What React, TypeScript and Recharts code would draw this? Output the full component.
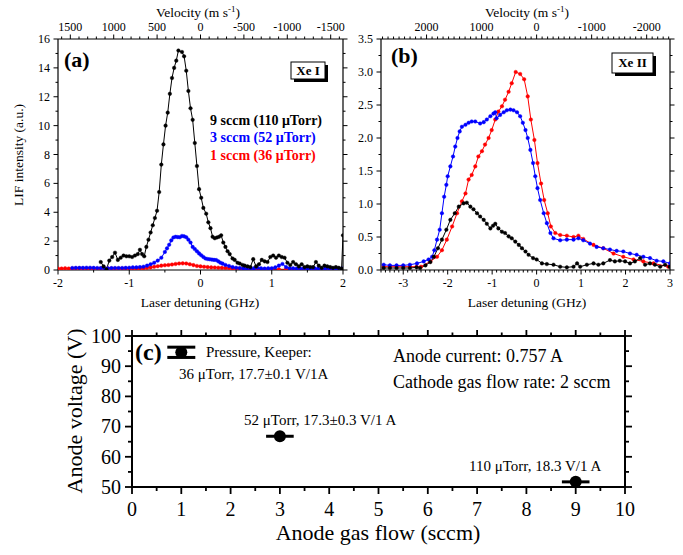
import React from 'react';
import { LineChart, Line, XAxis, YAxis, ScatterChart, Scatter, ErrorBar } from 'recharts';

const SERIF = '"Liberation Serif", "Times New Roman", serif';
const RED = '#ff0000';
const BLK = '#000000';
const BLUE = '#0000ff';

// velocity per GHz of detuning
const K_A = 821;
const K_B = 808;

// (a) Xe I, detuning (GHz) vs LIF intensity
const xeI_9sccm: [number, number][] = [
  [-1.4, 0.55], [-1.36, 0.25], [-1.32, 0.05], [-1.28, 0.65], [-1.24, 0.9], [-1.2, 1.2], [-1.16, 0.7],
  [-1.12, 0.85], [-1.08, 1.0], [-1.04, 0.95], [-1.0, 0.95], [-0.96, 0.9], [-0.92, 1.0], [-0.88, 1.1],
  [-0.85, 1.4], [-0.82, 1.1], [-0.79, 0.95], [-0.76, 1.6], [-0.73, 2.1], [-0.7, 2.6], [-0.67, 3.1],
  [-0.64, 3.6], [-0.61, 4.1], [-0.58, 5.4], [-0.55, 7.3], [-0.52, 8.7], [-0.49, 10.0], [-0.46, 10.9],
  [-0.43, 12.2], [-0.4, 13.3], [-0.37, 14.0], [-0.34, 14.5], [-0.31, 15.2], [-0.26, 15.1], [-0.23, 14.8],
  [-0.2, 13.8], [-0.17, 12.4], [-0.14, 11.2], [-0.11, 10.4], [-0.08, 8.8], [-0.05, 7.2], [-0.02, 5.6],
  [0.01, 5.0], [0.04, 4.3], [0.08, 3.9], [0.11, 3.3], [0.14, 2.9], [0.17, 2.3], [0.2, 2.2], [0.23, 2.25],
  [0.26, 2.3], [0.29, 2.4], [0.32, 1.9], [0.35, 1.6], [0.38, 1.3], [0.41, 1.1], [0.45, 0.8], [0.48, 0.7],
  [0.52, 0.5], [0.55, 0.45], [0.59, 0.35], [0.62, 0.3], [0.66, 0.25], [0.7, 0.2], [0.74, 0.75], [0.78, 0.25],
  [0.82, 0.4], [0.86, 0.7], [0.9, 0.6], [0.94, 0.55], [0.98, 0.9], [1.02, 1.0], [1.06, 0.85], [1.1, 1.0],
  [1.14, 0.9], [1.18, 0.85], [1.22, 0.5], [1.26, 0.35], [1.3, 0.55], [1.34, 0.4], [1.38, 0.25], [1.42, 0.4],
  [1.46, 0.2], [1.5, 0.25], [1.54, 0.2], [1.58, 0.2], [1.62, 0.55], [1.66, 0.3], [1.7, 0.15], [1.74, 0.3],
  [1.78, 0.25], [1.82, 0.2], [1.86, 0.15], [1.9, 0.2], [1.94, 0.15], [1.98, 0.1], [2.0, 2.4],
];
const xeI_3sccm: [number, number][] = [
  [-1.8, 0.14], [-1.75, 0.15], [-1.7, 0.15], [-1.65, 0.15], [-1.6, 0.16], [-1.55, 0.16], [-1.5, 0.15],
  [-1.45, 0.14], [-1.4, 0.13], [-1.35, 0.12], [-1.3, 0.12], [-1.25, 0.13], [-1.2, 0.14], [-1.15, 0.14],
  [-1.1, 0.14], [-1.05, 0.15], [-1.0, 0.16], [-0.95, 0.18], [-0.9, 0.18], [-0.85, 0.2], [-0.8, 0.23],
  [-0.75, 0.3], [-0.7, 0.4], [-0.65, 0.5], [-0.6, 0.65], [-0.55, 0.85], [-0.5, 1.25], [-0.47, 1.5],
  [-0.44, 1.75], [-0.41, 2.05], [-0.38, 2.25], [-0.35, 2.3], [-0.32, 2.28], [-0.29, 2.27], [-0.26, 2.36],
  [-0.23, 2.33], [-0.2, 2.27], [-0.17, 2.1], [-0.14, 1.9], [-0.11, 1.6], [-0.08, 1.45], [-0.05, 1.3],
  [-0.02, 1.15], [0.01, 1.02], [0.04, 0.9], [0.07, 0.8], [0.1, 0.76], [0.13, 0.74], [0.16, 0.72],
  [0.19, 0.7], [0.22, 0.69], [0.25, 0.6], [0.28, 0.5], [0.31, 0.44], [0.35, 0.35], [0.4, 0.28], [0.45, 0.2],
  [0.5, 0.16], [0.55, 0.13], [0.6, 0.11], [0.65, 0.1], [0.7, 0.1], [0.75, 0.12], [0.8, 0.15], [0.85, 0.12],
  [0.9, 0.1], [0.95, 0.12], [1.0, 0.12], [1.05, 0.18], [1.1, 0.3], [1.15, 0.42], [1.2, 0.2], [1.25, 0.12],
  [1.3, 0.12], [1.35, 0.1], [1.4, 0.1], [1.45, 0.12], [1.5, 0.1], [1.55, 0.1], [1.6, 0.12], [1.65, 0.1],
  [1.7, 0.1], [1.75, 0.1], [1.8, 0.12], [1.85, 0.1], [1.9, 0.08], [1.95, 0.1], [2.0, 0.1],
];
const xeI_1sccm: [number, number][] = [
  [-2.0, 0.1], [-1.95, 0.1], [-1.9, 0.12], [-1.85, 0.1], [-1.8, 0.1], [-1.75, 0.1], [-1.7, 0.11],
  [-1.65, 0.1], [-1.6, 0.1], [-1.55, 0.1], [-1.5, 0.1], [-1.45, 0.09], [-1.4, 0.1], [-1.35, 0.1],
  [-1.3, 0.1], [-1.25, 0.1], [-1.2, 0.1], [-1.15, 0.1], [-1.1, 0.1], [-1.05, 0.1], [-1.0, 0.1],
  [-0.95, 0.1], [-0.9, 0.1], [-0.85, 0.11], [-0.8, 0.12], [-0.75, 0.15], [-0.7, 0.18], [-0.65, 0.22],
  [-0.6, 0.26], [-0.55, 0.3], [-0.5, 0.33], [-0.45, 0.35], [-0.4, 0.38], [-0.35, 0.42], [-0.3, 0.45],
  [-0.25, 0.46], [-0.2, 0.45], [-0.15, 0.4], [-0.1, 0.34], [-0.05, 0.28], [0.0, 0.25], [0.05, 0.22],
  [0.1, 0.2], [0.15, 0.18], [0.2, 0.17], [0.25, 0.16], [0.3, 0.15], [0.35, 0.14], [0.4, 0.13], [0.45, 0.11],
  [0.5, 0.1], [0.55, 0.09], [0.6, 0.08], [0.65, 0.07], [0.7, 0.06], [0.8, 0.06], [0.9, 0.05], [1.0, 0.05],
  [1.1, 0.05], [1.2, 0.05], [1.3, 0.04], [1.4, 0.04], [1.5, 0.04], [1.6, 0.04], [1.7, 0.04], [1.8, 0.04],
  [1.9, 0.04], [2.0, 0.04],
];

// (b) Xe II
const xeII_9sccm: [number, number][] = [
  [-3.44, 0.03], [-3.3, 0.03], [-3.15, 0.03], [-3.0, 0.03], [-2.85, 0.03], [-2.7, 0.04], [-2.62, 0.03],
  [-2.5, 0.07], [-2.39, 0.12], [-2.31, 0.2], [-2.22, 0.33], [-2.13, 0.46], [-2.03, 0.61], [-1.94, 0.76],
  [-1.84, 0.86], [-1.75, 0.96], [-1.64, 1.01], [-1.57, 1.02], [-1.49, 0.96], [-1.42, 0.92], [-1.34, 0.86],
  [-1.27, 0.81], [-1.19, 0.76], [-1.12, 0.7], [-1.04, 0.63], [-0.98, 0.67], [-0.93, 0.7], [-0.86, 0.63],
  [-0.78, 0.58], [-0.71, 0.56], [-0.63, 0.51], [-0.56, 0.48], [-0.48, 0.43], [-0.4, 0.38], [-0.33, 0.33],
  [-0.25, 0.28], [-0.18, 0.23], [-0.08, 0.18], [0.0, 0.16], [0.12, 0.1], [0.23, 0.09], [0.38, 0.08],
  [0.53, 0.05], [0.68, 0.04], [0.83, 0.05], [0.91, 0.1], [0.98, 0.05], [1.13, 0.08], [1.28, 0.1],
  [1.39, 0.08], [1.5, 0.1], [1.65, 0.15], [1.76, 0.13], [1.87, 0.14], [1.99, 0.13], [2.1, 0.1],
  [2.21, 0.13], [2.33, 0.18], [2.44, 0.08], [2.55, 0.1], [2.66, 0.08], [2.78, 0.05], [2.89, 0.08], [2.99, 0.05],
];
const xeII_3sccm: [number, number][] = [
  [-3.44, 0.08], [-3.3, 0.07], [-3.15, 0.07], [-3.0, 0.07], [-2.85, 0.08], [-2.69, 0.1], [-2.54, 0.13],
  [-2.43, 0.16], [-2.35, 0.2], [-2.3, 0.3], [-2.24, 0.46], [-2.18, 0.61], [-2.13, 0.86], [-2.08, 1.11],
  [-2.03, 1.29], [-2.0, 1.42], [-1.94, 1.57], [-1.88, 1.72], [-1.83, 1.87], [-1.78, 2.0], [-1.73, 2.1],
  [-1.68, 2.17], [-1.6, 2.2], [-1.53, 2.23], [-1.46, 2.25], [-1.38, 2.25], [-1.27, 2.22], [-1.19, 2.24],
  [-1.12, 2.28], [-1.04, 2.33], [-0.97, 2.37], [-0.93, 2.39], [-0.9, 2.3], [-0.82, 2.35], [-0.74, 2.39],
  [-0.67, 2.42], [-0.59, 2.43], [-0.52, 2.42], [-0.44, 2.39], [-0.37, 2.33], [-0.31, 2.23], [-0.25, 2.12],
  [-0.2, 2.0], [-0.14, 1.82], [-0.08, 1.62], [-0.03, 1.42], [0.02, 1.24], [0.08, 1.06], [0.16, 0.86],
  [0.23, 0.71], [0.31, 0.56], [0.38, 0.48], [0.53, 0.45], [0.68, 0.46], [0.83, 0.46], [0.94, 0.48],
  [1.05, 0.45], [1.2, 0.4], [1.35, 0.35], [1.5, 0.33], [1.65, 0.31], [1.8, 0.29], [1.95, 0.28], [2.1, 0.25],
  [2.25, 0.23], [2.4, 0.2], [2.55, 0.18], [2.7, 0.14], [2.85, 0.13], [3.0, 0.1],
];
const xeII_1sccm: [number, number][] = [
  [-3.44, 0.05], [-3.3, 0.05], [-3.15, 0.05], [-3.0, 0.05], [-2.85, 0.05], [-2.7, 0.05], [-2.6, 0.05],
  [-2.39, 0.13], [-2.24, 0.2], [-2.13, 0.3], [-2.02, 0.46], [-1.9, 0.66], [-1.79, 0.86], [-1.68, 1.04],
  [-1.6, 1.16], [-1.53, 1.37], [-1.46, 1.44], [-1.38, 1.57], [-1.31, 1.72], [-1.23, 1.8], [-1.16, 1.9],
  [-1.08, 2.0], [-1.01, 2.12], [-0.93, 2.28], [-0.86, 2.4], [-0.78, 2.48], [-0.71, 2.58], [-0.63, 2.7],
  [-0.56, 2.83], [-0.47, 3.0], [-0.37, 2.97], [-0.28, 2.89], [-0.2, 2.63], [-0.13, 2.28], [-0.05, 1.97],
  [0.02, 1.62], [0.1, 1.31], [0.17, 1.06], [0.25, 0.86], [0.32, 0.66], [0.42, 0.56], [0.53, 0.53],
  [0.68, 0.52], [0.83, 0.5], [0.94, 0.52], [1.05, 0.47], [1.28, 0.38], [1.5, 0.33], [1.73, 0.25],
  [1.95, 0.2], [2.18, 0.16], [2.4, 0.13], [2.63, 0.1], [2.96, 0.05],
];

// (c) anode voltage vs anode gas flow
const flow1: { x: number; y: number; yErr: number }[] = [{ x: 1, y: 94.6, yErr: 1.7 }];
const flow3and9: { x: number; y: number; xErr: number }[] = [
  { x: 3, y: 66.8, xErr: 0.28 },
  { x: 9, y: 51.7, xErr: 0.28 },
];

const pts = (a: [number, number][]) => a.map(([x, y]) => ({ x, y }));

function steps(from: number, to: number, step: number) {
  const out: number[] = [];
  const n = Math.round((to - from) / step);
  for (let i = 0; i <= n; i++) out.push(+(from + i * step).toFixed(6));
  return out;
}
const onGrid = (v: number, step: number) => Math.abs(v / step - Math.round(v / step)) < 1e-6;

// corner points of a frame, so the mirrored top/right axes have something to scale against
const corners = (x0: number, x1: number, y0: number, y1: number) => [{ x: x0, y: y0 }, { x: x1, y: y1 }];

type Side = 'bottom' | 'top' | 'left' | 'right';
interface TickOpts { len: number; minor: number; gap: number; size: number; sw: number; labels?: boolean; fmt?: (v: number) => string }

// draws major/minor tick marks pointing outward, labels on majors only
function ticker(side: Side, major: number, o: TickOpts) {
  return (props: any) => {
    const { x, y, payload } = props;
    const v = payload.value as number;
    const isMajor = onGrid(v, major);
    const L = isMajor ? o.len : o.minor;
    let x2 = x, y2 = y;
    if (side === 'bottom') y2 = y + L;
    if (side === 'top') y2 = y - L;
    if (side === 'left') x2 = x - L;
    if (side === 'right') x2 = x + L;
    let label: React.ReactNode = null;
    if (o.labels && isMajor) {
      const s = o.fmt ? o.fmt(v) : String(v);
      const common = { fontFamily: SERIF, fontSize: o.size, fill: '#000' };
      if (side === 'bottom') label = <text x={x} y={y + o.len + o.gap} dy="0.71em" textAnchor="middle" {...common}>{s}</text>;
      if (side === 'top') label = <text x={x} y={y - o.len - o.gap} textAnchor="middle" {...common}>{s}</text>;
      if (side === 'left') label = <text x={x - o.len - o.gap} y={y} dy="0.34em" textAnchor="end" {...common}>{s}</text>;
    }
    return (
      <g>
        <line x1={x} y1={y} x2={x2} y2={y2} stroke="#000" strokeWidth={o.sw} />
        {label}
      </g>
    );
  };
}

const SMALL: TickOpts = { len: 4.5, minor: 2.5, gap: 3.5, size: 12, sw: 1, labels: true };
const BIG: TickOpts = { len: 7, minor: 4, gap: 8, size: 20, sw: 1.8, labels: true };
// top axis holds minus the velocity so it runs left to right; label shows the velocity
const VEL: TickOpts = { ...SMALL, fmt: (u) => (u === 0 ? '0' : String(-u)) };

const axisProps = (sw: number) => ({
  type: 'number' as const,
  axisLine: { stroke: '#000', strokeWidth: sw },
  tickLine: false,
  tickSize: 0,
  tickMargin: 0,
  interval: 0 as const,
  allowDataOverflow: true,
});

const dotted = (c: string) => ({
  type: 'linear' as const,
  dataKey: 'y',
  stroke: c,
  strokeWidth: 1,
  dot: { r: 1.8, fill: c, stroke: c, strokeWidth: 0.4 },
  activeDot: false as const,
  isAnimationActive: false,
  xAxisId: 'd',
  yAxisId: 'i',
});

const hidden = {
  dataKey: 'y',
  stroke: 'none',
  dot: false,
  activeDot: false as const,
  isAnimationActive: false,
  xAxisId: 'v',
  yAxisId: 'r',
  legendType: 'none' as const,
};

const NOMARGIN = { top: 0, right: 0, bottom: 0, left: 0 };

function XeBox({ x, y, w, h, label }: { x: number; y: number; w: number; h: number; label: string }) {
  return (
    <g>
      <rect x={x + 3} y={y + 3} width={w} height={h} fill="#000" />
      <rect x={x} y={y} width={w} height={h} fill="#fff" stroke="#000" strokeWidth={1} />
      <text x={x + w / 2} y={y + h / 2} dy="0.34em" textAnchor="middle" fontSize={13} fontWeight="bold">{label}</text>
    </g>
  );
}

function Velocity({ cx }: { cx: number }) {
  return (
    <text x={cx} y={17} textAnchor="middle" fontSize={13.5}>
      Velocity (m s<tspan dy={-5} fontSize={9}>-1</tspan><tspan dy={5}>)</tspan>
    </text>
  );
}

export default function App() {
  const sw = 1.2;
  return (
    <div style={{ position: 'absolute', left: 0, top: 0, width: 683, height: 555, background: '#fff', fontFamily: SERIF }}>
      {/* (a) Xe I */}
      <div style={{ position: 'absolute', left: 0, top: 0 }}>
        <LineChart width={350} height={300} margin={NOMARGIN}>
          <XAxis xAxisId="d" dataKey="x" orientation="bottom" height={30} domain={[-2, 2]}
            ticks={steps(-2, 2, 0.5)} tick={ticker('bottom', 1, SMALL)} {...axisProps(sw)} />
          <XAxis xAxisId="v" dataKey="x" orientation="top" height={39} domain={[-2 * K_A, 2 * K_A]}
            ticks={steps(-1600, 1600, 100)} tick={ticker('top', 500, VEL)} {...axisProps(sw)} />
          <YAxis yAxisId="i" width={58} domain={[0, 16]} ticks={steps(0, 16, 1)}
            tick={ticker('left', 2, SMALL)} {...axisProps(sw)} />
          <YAxis yAxisId="r" orientation="right" width={7} domain={[0, 16]} ticks={steps(0, 16, 1)}
            tick={ticker('right', 2, { ...SMALL, labels: false })} {...axisProps(sw)} />
          <Line data={corners(-2 * K_A, 2 * K_A, 0, 16)} {...hidden} />
          <Line data={pts(xeI_1sccm)} {...dotted(RED)} />
          <Line data={pts(xeI_3sccm)} {...dotted(BLUE)} />
          <Line data={pts(xeI_9sccm)} {...dotted(BLK)} />
        </LineChart>
      </div>

      {/* (b) Xe II */}
      <div style={{ position: 'absolute', left: 340, top: 0 }}>
        <LineChart width={343} height={300} margin={NOMARGIN}>
          <XAxis xAxisId="d" dataKey="x" orientation="bottom" height={30} domain={[-3.5, 3]}
            ticks={steps(-3.5, 3, 0.1)} tick={ticker('bottom', 1, SMALL)} {...axisProps(sw)} />
          <XAxis xAxisId="v" dataKey="x" orientation="top" height={39} domain={[-3.5 * K_B, 3 * K_B]}
            ticks={steps(-2800, 2400, 100)} tick={ticker('top', 1000, VEL)} {...axisProps(sw)} />
          <YAxis yAxisId="i" width={41} domain={[0, 3.5]} ticks={steps(0, 3.5, 0.25)}
            tick={ticker('left', 0.5, { ...SMALL, fmt: (v) => v.toFixed(1) })} {...axisProps(sw)} />
          <YAxis yAxisId="r" orientation="right" width={13} domain={[0, 3.5]} ticks={steps(0, 3.5, 0.25)}
            tick={ticker('right', 0.5, { ...SMALL, labels: false })} {...axisProps(sw)} />
          <Line data={corners(-3.5 * K_B, 3 * K_B, 0, 3.5)} {...hidden} />
          <Line data={pts(xeII_1sccm)} {...dotted(RED)} />
          <Line data={pts(xeII_3sccm)} {...dotted(BLUE)} />
          <Line data={pts(xeII_9sccm)} {...dotted(BLK)} />
        </LineChart>
      </div>

      {/* (c) anode voltage */}
      <div style={{ position: 'absolute', left: 0, top: 310 }}>
        <ScatterChart width={683} height={245} margin={NOMARGIN}>
          <XAxis xAxisId="f" dataKey="x" orientation="bottom" height={68} domain={[0, 10]}
            ticks={steps(0, 10, 0.5)} tick={ticker('bottom', 1, BIG)} {...axisProps(2)} />
          <XAxis xAxisId="t" dataKey="x" orientation="top" height={26} domain={[0, 10]}
            ticks={steps(0, 10, 0.5)} tick={ticker('top', 1, { ...BIG, len: 6, minor: 3.5, labels: false })} {...axisProps(2)} />
          <YAxis yAxisId="v" dataKey="y" width={132} domain={[50, 100]} ticks={steps(50, 100, 5)}
            tick={ticker('left', 10, { ...BIG, gap: 4 })} {...axisProps(2)} />
          <YAxis yAxisId="r" dataKey="y" orientation="right" width={58} domain={[50, 100]} ticks={steps(50, 100, 5)}
            tick={ticker('right', 10, { ...BIG, labels: false })} {...axisProps(2)} />
          <Scatter xAxisId="t" yAxisId="r" data={corners(0, 10, 50, 100)} isAnimationActive={false}
            legendType="none" shape={() => <g />} />
          <Scatter xAxisId="f" yAxisId="v" data={flow1} fill={BLK} isAnimationActive={false}
            shape={(p: any) => <circle cx={p.cx} cy={p.cy} r={6} fill={BLK} />}>
            <ErrorBar dataKey="yErr" direction="y" width={14} strokeWidth={3} stroke={BLK} isAnimationActive={false} />
          </Scatter>
          <Scatter xAxisId="f" yAxisId="v" data={flow3and9} fill={BLK} isAnimationActive={false}
            shape={(p: any) => <circle cx={p.cx} cy={p.cy} r={6} fill={BLK} />}>
            <ErrorBar dataKey="xErr" direction="x" width={0} strokeWidth={3} stroke={BLK} isAnimationActive={false} />
          </Scatter>
        </ScatterChart>
      </div>

      {/* annotations and axis titles */}
      <svg width={683} height={555} style={{ position: 'absolute', left: 0, top: 0, pointerEvents: 'none' }}
        fontFamily={SERIF} fill="#000">
        <Velocity cx={198} />
        <Velocity cx={527} />
        <text transform="translate(18,155) rotate(-90)" textAnchor="middle" dy="0.34em" fontSize={13.5}>LIF intensity (a.u.)</text>
        <text x={200} y={302} dy="0.34em" textAnchor="middle" fontSize={13.5}>Laser detuning (GHz)</text>
        <text x={527} y={302} dy="0.34em" textAnchor="middle" fontSize={13.5}>Laser detuning (GHz)</text>

        <text x={64} y={60} dy="0.34em" fontSize={22} fontWeight="bold">(a)</text>
        <text x={391} y={56} dy="0.34em" fontSize={22} fontWeight="bold">(b)</text>
        <XeBox x={291} y={62} w={34} h={17} label="Xe I" />
        <XeBox x={612} y={53} w={41} h={20} label="Xe II" />

        <text x={210} y={120} dy="0.34em" fontSize={14} fontWeight="bold" fill={BLK}>9 sccm (110 μTorr)</text>
        <text x={210} y={137} dy="0.34em" fontSize={14} fontWeight="bold" fill={BLUE}>3 sccm (52 μTorr)</text>
        <text x={210} y={155} dy="0.34em" fontSize={14} fontWeight="bold" fill={RED}>1 sccm (36 μTorr)</text>

        <text x={135} y={352} dy="0.34em" fontSize={24} fontWeight="bold">(c)</text>
        <text x={206} y={352} dy="0.34em" fontSize={15}>Pressure, Keeper:</text>
        <text x={179} y={374} dy="0.34em" fontSize={15}>36 μTorr, 17.7±0.1 V/1A</text>
        <text x={244} y={420} dy="0.34em" fontSize={15}>52 μTorr, 17.3±0.3 V/1 A</text>
        <text x={469} y={466} dy="0.34em" fontSize={15}>110 μTorr, 18.3 V/1 A</text>
        <text x={393} y={356} dy="0.34em" fontSize={18}>Anode current: 0.757 A</text>
        <text x={393} y={382} dy="0.34em" fontSize={18}>Cathode gas flow rate: 2 sccm</text>

        <text transform="translate(75,411) rotate(-90)" textAnchor="middle" dy="0.34em" fontSize={22}>Anode voltage (V)</text>
        <text x={378} y={533} dy="0.34em" textAnchor="middle" fontSize={22}>Anode gas flow (sccm)</text>
      </svg>
    </div>
  );
}
